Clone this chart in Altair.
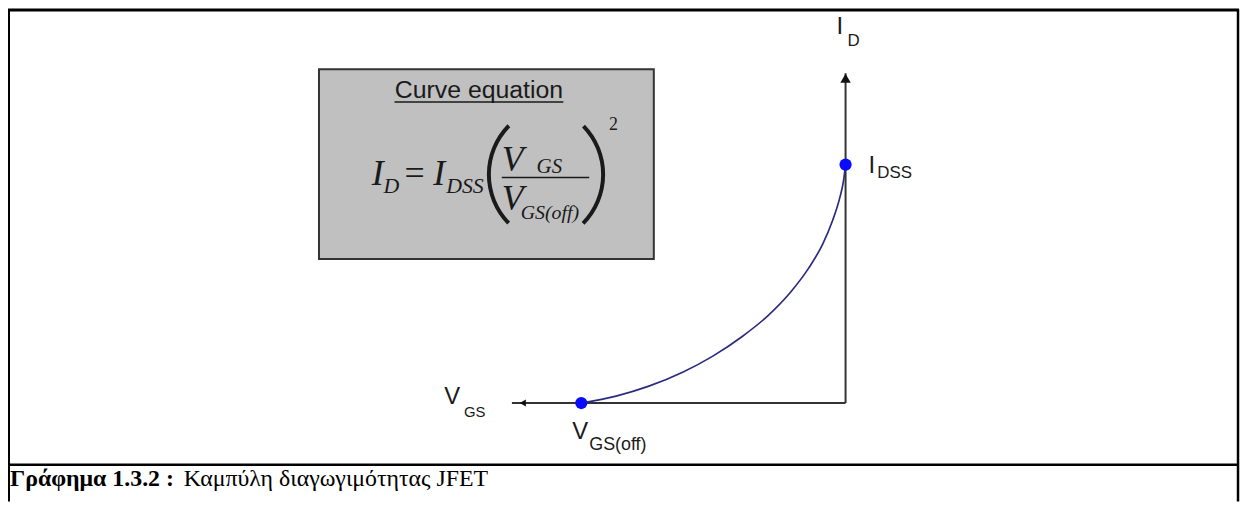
import altair as alt
import pandas as pd

# ---------------- data ----------------
VGS_OFF = -4.0      # V  (pinch-off voltage, arbitrary units)
IDSS = 10.0         # mA (saturation current, arbitrary units)

curve_vgs = [-4.000, -3.474, -2.977, -2.466, -2.015, -1.564, -1.173, -0.827, -0.556,
             -0.346, -0.195, -0.090, -0.030, 0.000]
curve_id = [0.000, 0.292, 0.708, 1.292, 1.958, 2.792, 3.667, 4.667, 5.667,
            6.667, 7.667, 8.583, 9.333, 10.000]

point_vgs = [VGS_OFF, 0.0]
point_id = [0.0, IDSS]

axis_x_end = -5.05   # left end of the V_GS axis
axis_y_end = 13.83   # top end of the I_D axis

caption_bold = "Γράφημα 1.3.2 :"
caption_text = "Καμπύλη διαγωγιμότητας JFET"
box_title = "Curve equation"

# ---------------- layout ----------------
W, H = 1240, 495
OFF = 8                     # page margin
X0, Y0 = 851 - OFF, 404 - OFF   # pixel of the origin (VGS=0, ID=0)
PXV, PXA = 66.5, 24.0       # pixels per volt / per mA

xs = alt.Scale(domain=[-X0 / PXV, (W - X0) / PXV], nice=False, zero=False)
ys = alt.Scale(domain=[-(H - Y0) / PXA, Y0 / PXA], nice=False, zero=False)

one = pd.DataFrame({"a": [0]})


def X(f):
    return alt.X(f, type="quantitative", scale=xs, axis=None)


def Y(f):
    return alt.Y(f, type="quantitative", scale=ys, axis=None)


def txt(t, x, y, size, font="Liberation Sans", style="normal", weight="normal",
        color="#1a1a1a", align="left"):
    return alt.Chart(one).mark_text(
        text=t, font=font, fontSize=size, fontStyle=style, fontWeight=weight,
        color=color, align=align, baseline="alphabetic"
    ).encode(x=alt.value(x - OFF), y=alt.value(y - OFF))


def hrule(x1, x2, y, w=2, color="black"):
    return alt.Chart(one).mark_rule(color=color, strokeWidth=w).encode(
        x=alt.value(x1 - OFF), x2=alt.value(x2 - OFF), y=alt.value(y - OFF))


def vrule(x, y1, y2, w=2, color="black"):
    return alt.Chart(one).mark_rule(color=color, strokeWidth=w).encode(
        x=alt.value(x - OFF), y=alt.value(y1 - OFF), y2=alt.value(y2 - OFF))


layers = []

# frame
layers += [
    vrule(8.5, 8, 503, 3),
    hrule(8, 1247, 8.5, 3),
    vrule(1246, 8, 503, 2.5),
    hrule(8, 1247, 466, 2.5),
]

# equation box
layers.append(
    alt.Chart(one).mark_rect(fill="#c0c0c0", stroke="#333333", strokeWidth=2).encode(
        x=alt.value(321 - OFF), x2=alt.value(658 - OFF),
        y=alt.value(68 - OFF), y2=alt.value(259 - OFF))
)
layers.append(txt(box_title, 482, 97, 25, align="center"))
layers.append(hrule(397, 567, 101, 1.5, "#1a1a1a"))

serif = "Liberation Serif"
layers += [
    txt("I", 374, 185, 36, serif, "italic"),
    txt("D", 386, 193, 22, serif, "italic"),
    txt("=", 407, 185, 36, serif),
    txt("I", 436, 185, 36, serif, "italic"),
    txt("DSS", 449, 193, 22, serif, "italic"),
    txt("V", 505, 170, 36, serif, "italic"),
    txt("GS", 540, 172, 21, serif, "italic"),
    hrule(505, 593, 177, 1.6, "#1a1a1a"),
    txt("V", 505, 210, 36, serif, "italic"),
    txt("GS(off)", 524, 219, 20, serif, "italic"),
    txt("2", 613, 129, 18, serif),
]
# big parentheses
for cx, t1, t2 in [(562, 3.94, 5.49), (537, 0.80, 2.35)]:
    layers.append(
        alt.Chart(one).mark_arc(theta=t1, theta2=t2, radius=72, radius2=68,
                                color="#1a1a1a").encode(
            x=alt.value(cx - OFF), y=alt.value(174 - OFF))
    )

# axes
axes_h = pd.DataFrame({"x": [axis_x_end], "x2": [0.0], "y": [0.0]})
axes_v = pd.DataFrame({"x": [0.0], "y": [0.0], "y2": [axis_y_end]})
layers.append(alt.Chart(axes_h).mark_rule(color="#333333", strokeWidth=2).encode(
    x=X("x"), x2="x2", y=Y("y")))
layers.append(alt.Chart(axes_v).mark_rule(color="#333333", strokeWidth=2).encode(
    x=X("x"), y=Y("y"), y2="y2"))
arrow_up = pd.DataFrame({"x": [0.0], "y": [axis_y_end - 5 / PXA]})
arrow_left = pd.DataFrame({"x": [axis_x_end + 11 / PXV], "y": [0.0]})
layers.append(alt.Chart(arrow_up).mark_point(shape="triangle-up", filled=True, size=110,
                                             color="#111111", opacity=1).encode(x=X("x"), y=Y("y")))
layers.append(alt.Chart(arrow_left).mark_point(shape="triangle-left", filled=True, size=50,
                                               color="#111111", opacity=1).encode(x=X("x"), y=Y("y")))

# transfer curve
curve = pd.DataFrame({"vgs": curve_vgs, "id": curve_id, "o": range(len(curve_vgs))})
layers.append(alt.Chart(curve).mark_line(color="#2b2b80", strokeWidth=1.7,
                                         interpolate="monotone").encode(
    x=X("vgs"), y=Y("id"), order="o:Q"))

pts = pd.DataFrame({"vgs": point_vgs, "id": point_id})
layers.append(alt.Chart(pts).mark_point(shape="circle", filled=True, size=150,
                                        color="#0a0aff", opacity=1).encode(x=X("vgs"), y=Y("id")))

# axis labels
layers += [
    txt("I", 842, 33, 24),
    txt("D", 853, 45, 17),
    txt("I", 874, 172, 24),
    txt("DSS", 883, 177, 17),
    txt("V", 447, 405, 24),
    txt("GS", 467, 418, 15),
    txt("V", 576, 440, 24),
    txt("GS(off)", 593, 451, 18),
]

# caption
layers.append(txt(caption_bold, 10, 487, 24, serif, weight="bold", color="black"))
layers.append(txt(caption_text, 185, 487, 24, serif, color="black"))

chart = alt.layer(*layers).properties(
    width=W, height=H, autosize=alt.AutoSizeParams(type="none"), padding=0,
    background="white"
).configure_view(stroke=None)

chart.save("out.html", embed_options={"renderer": "svg", "actions": False})
